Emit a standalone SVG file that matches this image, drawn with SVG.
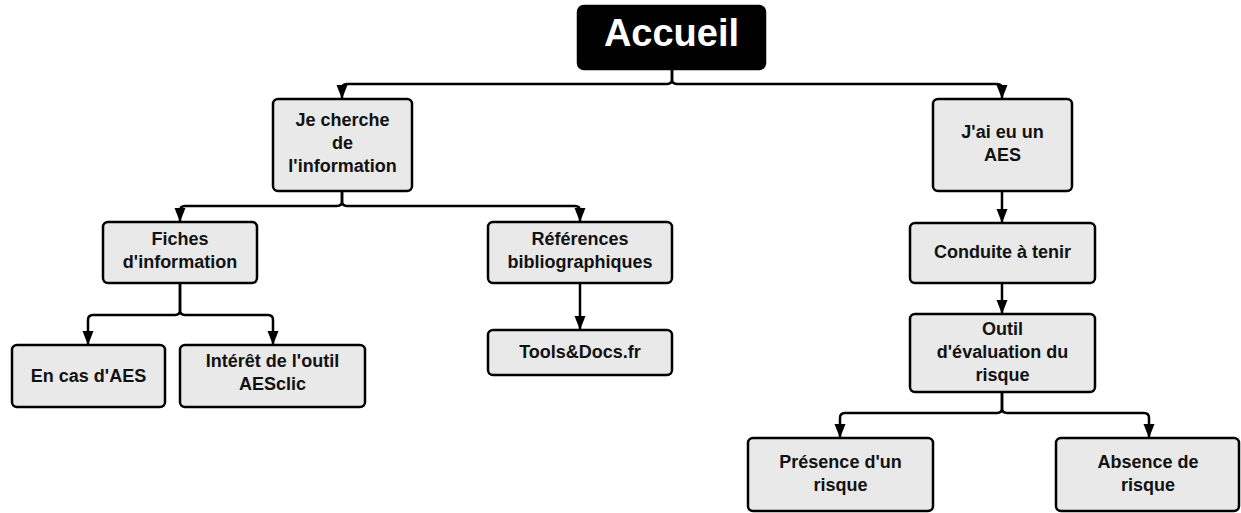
<svg xmlns="http://www.w3.org/2000/svg" width="1241" height="513" viewBox="0 0 1241 513">
<style>
.box{fill:#e9e9e9;stroke:#000;stroke-width:2.5}
.root{fill:#000;stroke:#000;stroke-width:2.5}
.t{font-family:"Liberation Sans",Arial,sans-serif;font-weight:bold;font-size:18px;fill:#111;text-anchor:middle}
.rt{font-family:"Liberation Sans",Arial,sans-serif;font-weight:bold;font-size:38px;fill:#fff;text-anchor:middle}
.c{fill:none;stroke:#000;stroke-width:2.5}
</style>
<defs>
<marker id="ah" markerUnits="userSpaceOnUse" markerWidth="14" markerHeight="14" viewBox="0 0 14 14" refX="13" refY="7" orient="auto">
<path d="M0,1.5 L14,7 L0,12.5 z" fill="#000"/>
</marker>
</defs>
<g id="connectors">
<path class="c" marker-end="url(#ah)" d="M672,69 V79 Q672,84 667,84 H347 Q342,84 342,89 V98"/>
<path class="c" marker-end="url(#ah)" d="M672,69 V79 Q672,84 677,84 H997 Q1002,84 1002,89 V98"/>
<path class="c" marker-end="url(#ah)" d="M342,191 V201 Q342,206 337,206 H185 Q180,206 180,211 V221"/>
<path class="c" marker-end="url(#ah)" d="M342,191 V201 Q342,206 347,206 H575 Q580,206 580,211 V221"/>
<path class="c" marker-end="url(#ah)" d="M180,283 V310 Q180,315 175,315 H93 Q88,315 88,320 V344"/>
<path class="c" marker-end="url(#ah)" d="M180,283 V310 Q180,315 185,315 H268 Q273,315 273,320 V344"/>
<path class="c" marker-end="url(#ah)" d="M580,283 V329"/>
<path class="c" marker-end="url(#ah)" d="M1002,191 V222"/>
<path class="c" marker-end="url(#ah)" d="M1002,283 V313"/>
<path class="c" marker-end="url(#ah)" d="M1002,392 V408 Q1002,413 997,413 H845 Q840,413 840,418 V437"/>
<path class="c" marker-end="url(#ah)" d="M1002,392 V408 Q1002,413 1007,413 H1144 Q1149,413 1149,418 V437"/>
</g>
<g id="accueil">
<rect class="root" x="578" y="6" width="187" height="63" rx="6"/>
<text class="rt" x="671.5" y="46">Accueil</text>
</g>
<g id="je-cherche">
<rect class="box" x="273" y="99" width="139" height="92" rx="5"/>
<text class="t" x="342.5" y="126">Je cherche</text>
<text class="t" x="342.5" y="149">de</text>
<text class="t" x="342.5" y="172">l'information</text>
</g>
<g id="fiches">
<rect class="box" x="103" y="222" width="154" height="61" rx="5"/>
<text class="t" x="180" y="245">Fiches</text>
<text class="t" x="180" y="268">d'information</text>
</g>
<g id="en-cas">
<rect class="box" x="12" y="345" width="153" height="62" rx="5"/>
<text class="t" x="88.5" y="382">En cas d'AES</text>
</g>
<g id="interet">
<rect class="box" x="180" y="345" width="185" height="62" rx="5"/>
<text class="t" x="272.5" y="367">Intérêt de l'outil</text>
<text class="t" x="272.5" y="390">AESclic</text>
</g>
<g id="references">
<rect class="box" x="488" y="222" width="184" height="61" rx="5"/>
<text class="t" x="580" y="245">Références</text>
<text class="t" x="580" y="268">bibliographiques</text>
</g>
<g id="tools">
<rect class="box" x="488" y="330" width="184" height="45" rx="5"/>
<text class="t" x="580" y="358">Tools&amp;Docs.fr</text>
</g>
<g id="jai-eu">
<rect class="box" x="933" y="99" width="139" height="92" rx="5"/>
<text class="t" x="1002.5" y="138">J'ai eu un</text>
<text class="t" x="1002.5" y="161">AES</text>
</g>
<g id="conduite">
<rect class="box" x="910" y="223" width="185" height="60" rx="5"/>
<text class="t" x="1002.5" y="258">Conduite à tenir</text>
</g>
<g id="outil">
<rect class="box" x="910" y="314" width="185" height="78" rx="5"/>
<text class="t" x="1002.5" y="335">Outil</text>
<text class="t" x="1002.5" y="358">d'évaluation du</text>
<text class="t" x="1002.5" y="381">risque</text>
</g>
<g id="presence">
<rect class="box" x="748" y="438" width="185" height="73" rx="5"/>
<text class="t" x="840.5" y="468">Présence d'un</text>
<text class="t" x="840.5" y="491">risque</text>
</g>
<g id="absence">
<rect class="box" x="1056" y="438" width="183" height="73" rx="5"/>
<text class="t" x="1148" y="468">Absence de</text>
<text class="t" x="1148" y="491">risque</text>
</g>
</svg>
